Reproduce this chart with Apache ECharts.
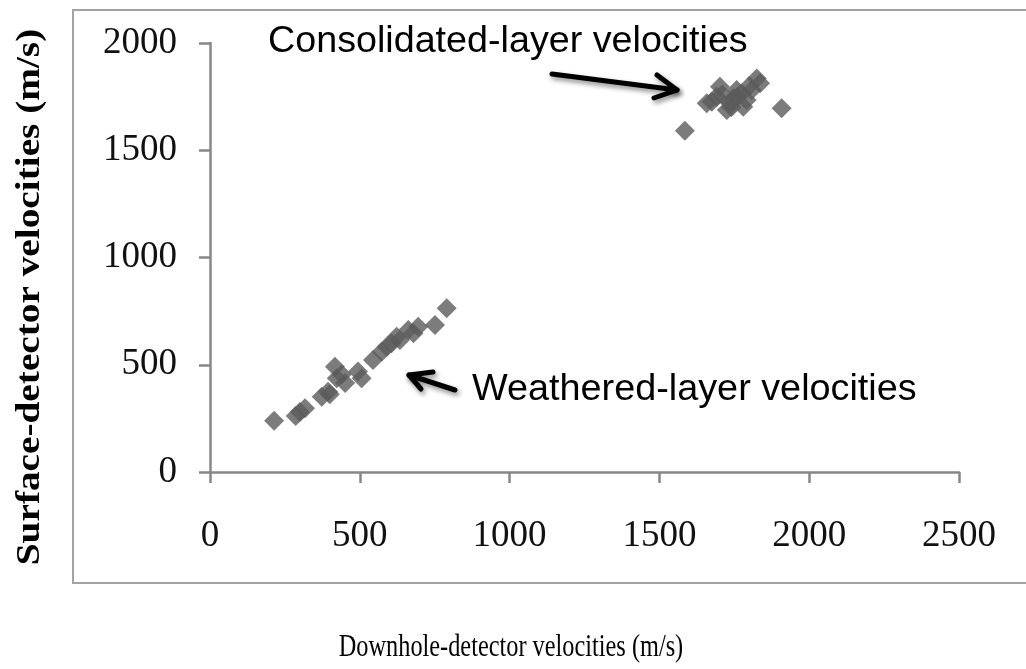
<!DOCTYPE html>
<html>
<head>
<meta charset="utf-8">
<script src="https://cdn.jsdelivr.net/npm/echarts@6/dist/echarts.min.js"></script>
<style>
  html, body { margin: 0; padding: 0; background: #fff; }
  #chart { width: 1026px; height: 669px; }
</style>
</head>
<body>
<div id="chart"></div>
<script>
// data (m/s)
var weatheredX = [214, 286, 300, 317, 373, 394, 400, 417, 423, 451, 440, 494, 506, 544, 573, 590, 606, 623, 634, 662, 679, 695, 751, 790];
var weatheredY = [239, 261, 280, 297, 351, 374, 362, 491, 437, 415, 455, 468, 437, 522, 561, 584, 600, 631, 615, 662, 647, 677, 685, 763];
var consolidatedX = [1585, 1658, 1675, 1691, 1702, 1710, 1725, 1736, 1740, 1747, 1758, 1760, 1774, 1780, 1791, 1800, 1808, 1825, 1836, 1908];
var consolidatedY = [1591, 1719, 1726, 1750, 1796, 1760, 1688, 1719, 1700, 1742, 1781, 1750, 1765, 1703, 1734, 1800, 1781, 1835, 1812, 1696];
var xTicks = [0, 500, 1000, 1500, 2000, 2500];
var yTicks = [0, 500, 1000, 1500, 2000];

function pairs(xs, ys) {
  return xs.map(function (x, i) { return [x, ys[i]]; });
}

var myChart = echarts.init(document.getElementById('chart'));

var axisGray = '#878787';
var labelFont = { fontFamily: 'Liberation Serif', fontSize: 37, color: '#111', formatter: function (v) { return String(v); } };
var noteFont = 'Liberation Sans';

var arrowStyle = {
  stroke: '#000',
  lineWidth: 5,
  lineCap: 'round',
  lineJoin: 'round',
  fill: null,
  shadowBlur: 5,
  shadowColor: 'rgba(0,0,0,0.45)',
  shadowOffsetX: 2,
  shadowOffsetY: 3
};

option = {
  animation: false,
  backgroundColor: '#fff',
  grid: { left: 210, right: 67, top: 43, bottom: 197 },
  xAxis: {
    type: 'value',
    min: xTicks[0],
    max: xTicks[xTicks.length - 1],
    interval: 500,
    axisLine: { show: true, lineStyle: { color: axisGray, width: 2.5 } },
    axisTick: { show: true, inside: false, length: 11, lineStyle: { color: axisGray, width: 2.5 } },
    axisLabel: Object.assign({ margin: 46 }, labelFont),
    splitLine: { show: false }
  },
  yAxis: {
    type: 'value',
    min: yTicks[0],
    max: yTicks[yTicks.length - 1],
    interval: 500,
    axisLine: { show: true, lineStyle: { color: axisGray, width: 2.5 } },
    axisTick: { show: true, inside: false, length: 11, lineStyle: { color: axisGray, width: 2.5 } },
    axisLabel: Object.assign({ margin: 33 }, labelFont),
    splitLine: { show: false }
  },
  graphic: [
    {
      type: 'rect',
      shape: { x: 73, y: 10, width: 970, height: 573 },
      style: { fill: null, stroke: '#a3a3a3', lineWidth: 2 },
      silent: true
    },
    {
      type: 'text',
      x: 268, y: 42,
      style: { text: 'Consolidated-layer velocities', font: '37.7px "' + noteFont + '"', fill: '#000', textVerticalAlign: 'middle' }
    },
    {
      type: 'text',
      x: 472, y: 390,
      style: { text: 'Weathered-layer velocities', font: '37.8px "' + noteFont + '"', fill: '#000', textVerticalAlign: 'middle' }
    },
    // arrow to the consolidated cluster
    { type: 'polyline', shape: { points: [[552, 74], [677, 90]] }, style: arrowStyle },
    { type: 'polyline', shape: { points: [[657, 75], [677, 90], [654, 98]] }, style: arrowStyle },
    // arrow to the weathered cluster
    { type: 'polyline', shape: { points: [[455, 390], [409, 375]] }, style: arrowStyle },
    { type: 'polyline', shape: { points: [[433, 372], [409, 375], [421, 389]] }, style: arrowStyle },
    {
      type: 'text',
      x: 511, y: 648,
      scaleX: 0.76,
      style: { text: 'Downhole-detector velocities (m/s)', font: '32px "Liberation Serif"', fill: '#000', textAlign: 'center', textVerticalAlign: 'middle' }
    },
    {
      type: 'text',
      x: 30, y: 297,
      rotation: Math.PI / 2,
      scaleX: 1.19,
      style: { text: 'Surface-detector velocities (m/s)', font: 'bold 33px "Liberation Serif"', fill: '#000', textAlign: 'center', textVerticalAlign: 'middle' }
    }
  ],
  series: [
    {
      name: 'Weathered layer',
      type: 'scatter',
      symbol: 'diamond',
      symbolSize: 20,
      itemStyle: { color: '#5b5b5b' },
      data: pairs(weatheredX, weatheredY)
    },
    {
      name: 'Consolidated layer',
      type: 'scatter',
      symbol: 'diamond',
      symbolSize: 20,
      itemStyle: { color: '#5b5b5b' },
      data: pairs(consolidatedX, consolidatedY)
    }
  ]
};

myChart.setOption(option);
</script>
</body>
</html>
